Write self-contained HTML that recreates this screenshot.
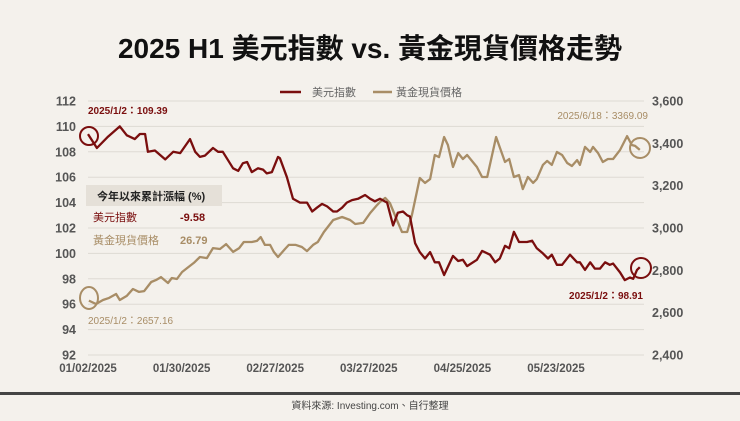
<!DOCTYPE html>
<html><head><meta charset="utf-8"><style>
body{margin:0;background:#f4f1ec;}
svg text{font-family:"Liberation Sans","Noto Sans CJK TC",sans-serif;}
</style></head><body>
<svg width="740" height="416" viewBox="0 0 740 416" xmlns="http://www.w3.org/2000/svg">
<rect width="740" height="416" fill="#f4f1ec"/>
<text x="370" y="58" text-anchor="middle" font-size="28" font-weight="bold" fill="#111">2025 H1 美元指數 vs. 黃金現貨價格走勢</text>
<g id="grid"></g><g id="axes"></g>
<g>
<line x1="280" y1="92" x2="301" y2="92" stroke="#7a0e0e" stroke-width="2.5"/>
<text x="312" y="96" font-size="11" fill="#666">美元指數</text>
<line x1="373" y1="92" x2="392" y2="92" stroke="#a88d66" stroke-width="2.5"/>
<text x="396" y="96" font-size="11" fill="#666">黃金現貨價格</text>
</g>
<g id="series"></g>
<g>
<rect x="86" y="185" width="136" height="21" fill="#e5e0d8"/>
<text x="97" y="200" font-size="11" font-weight="bold" fill="#222">今年以來累計漲幅 (%)</text>
<text x="93" y="221" font-size="11" fill="#7a0e0e">美元指數</text>
<text x="180" y="221" font-size="11" font-weight="bold" fill="#7a0e0e">-9.58</text>
<text x="93" y="244" font-size="11" fill="#a88d66">黃金現貨價格</text>
<text x="180" y="244" font-size="11" font-weight="bold" fill="#a88d66">26.79</text>
</g>
<g>
<text x="88" y="114" font-size="10" font-weight="bold" fill="#7a0e0e">2025/1/2：109.39</text>
<circle cx="89" cy="136" r="9" fill="none" stroke="#7a0e0e" stroke-width="2"/>
<text x="648" y="119" text-anchor="end" font-size="10" fill="#a88d66">2025/6/18：3369.09</text>
<circle cx="640" cy="148" r="10" fill="none" stroke="#a88d66" stroke-width="2"/>
<text x="643" y="299" text-anchor="end" font-size="10" font-weight="bold" fill="#7a0e0e">2025/1/2：98.91</text>
<circle cx="641" cy="268" r="10" fill="none" stroke="#7a0e0e" stroke-width="2"/>
<text x="88" y="324" font-size="10" fill="#a88d66">2025/1/2：2657.16</text>
<ellipse cx="89" cy="298" rx="9" ry="11" fill="none" stroke="#a88d66" stroke-width="2"/>
</g>
<rect x="0" y="392" width="740" height="3" fill="#444"/>
<text x="370" y="409" text-anchor="middle" font-size="10" fill="#444">資料來源: Investing.com、自行整理</text>
</svg>
<script>
const dxyDays=[0,1.9,4.3,6.8,8.3,10,11.1,12.2,12.8,14.3,16.5,18.2,19.7,21.8,22.9,23.9,25,26.7,27.8,28.8,31,32.1,33.1,34,35,36.3,37.4,38.2,39.3,40.6,41,42.5,43.8,45.3,46.8,47.9,48.9,50,51.1,52.4,53.2,54.3,55.3,56.4,57.7,59.2,60.3,61.3,62.4,63.9,65.2,66.2,67.3,68.2,68.8,69.9,70.9,72,73.1,74.1,75,76.1,78,79.1,80.1,81,83.1,84.2,85.9,87,88,89.1,90,91,92.1,93.8,94.9,95.9,97.2,98.3,99.1,100.2,101.3,103,104.5,105.1,106.2,107.3,108.3,109.4,110.5,111.5,112.2,113.7,114.7,115.8,116.5,117.3,117.9];
const dxyVals=[109.39,108.3,109.2,110,109.3,109,109.4,109.4,108,108.1,107.4,108,107.9,109,108,107.6,107.7,108.3,108,108,106.7,106.5,107.1,107.2,106.4,106.7,106.6,106.3,106.4,107.6,107.5,106,104.3,104,104,103.3,103.6,103.9,103.7,103.3,103.3,103.6,104,104.2,104.3,104.6,104.3,104.1,104.3,104,102.2,103.2,103.3,103,102.9,100.8,100.1,99.6,100.1,99.3,99.3,98.3,99.8,99.4,99.5,99,99.5,100.2,99.9,99.3,99.6,100.6,100.4,101.7,100.9,100.9,101,100.4,100,99.6,99.9,99.1,99.1,99.9,99.3,99.3,98.7,99.3,98.8,98.8,99.3,99.1,99.2,98.5,97.9,98.1,98,98.7,98.91];
const goldDays=[0.2,1.7,3.2,4.5,6,6.8,8.3,9.6,10.9,12,13.5,14.5,15.6,17.1,17.9,19,20.1,21.2,22.6,23.9,25.4,26.7,28.2,29.5,31,32.3,33.3,35,36.1,36.9,37.8,38.9,39.7,40.6,42.1,42.9,44.4,45.7,46.8,48.1,49.1,50.4,52.4,54.3,56,57.1,58.8,60.3,61.8,62.4,63.5,64.5,66,67.1,68.2,69.2,70.9,72,73.1,74.1,75,76.1,76.9,78,79.1,80.1,81,83.1,84.2,85.3,87.2,89.1,90,91,92.1,92.9,94,95.1,95.9,97.2,98.1,99.1,100.2,101.3,102.4,103.4,104.5,105.1,106.2,107.3,107.9,109,110,111.1,112.2,113.7,115.2,116.2,116.9,117.9];
const goldVals=[2657.16,2641,2660,2670,2688,2660,2679,2712,2698,2702,2745,2754,2768,2740,2764,2759,2792,2811,2835,2863,2858,2905,2901,2924,2887,2905,2934,2934,2939,2957,2920,2920,2887,2863,2901,2920,2920,2910,2891,2920,2934,2981,3038,3052,3038,3019,3024,3071,3109,3123,3142,3118,3038,2981,2981,3061,3236,3213,3231,3345,3335,3430,3392,3288,3354,3326,3345,3288,3241,3241,3430,3312,3326,3241,3250,3184,3241,3213,3231,3298,3317,3298,3359,3345,3307,3293,3321,3298,3383,3359,3383,3354,3312,3326,3326,3369,3434,3392,3388,3369.09];
const leftTicks=[112,110,108,106,104,102,100,98,96,94,92];
const rightTicks=["3,600","3,400","3,200","3,000","2,800","2,600","2,400"];
const rightTickVals=[3600,3400,3200,3000,2800,2600,2400];
const xLabels=["01/02/2025","01/30/2025","02/27/2025","03/27/2025","04/25/2025","05/23/2025"];
const xLabelDays=[0,20,40,60,80,100];
const X0=88,X1=644,DX=4.68,YT=101,YB=355;
const xs=d=>X0+d*DX;
const yl=v=>YT+(112-v)/20*(YB-YT);
const yr=v=>YT+(3600-v)/1200*(YB-YT);
const NS="http://www.w3.org/2000/svg";
function mk(tag,attrs,parent,txt){const e=document.createElementNS(NS,tag);for(const k in attrs)e.setAttribute(k,attrs[k]);if(txt!=null)e.textContent=txt;parent.appendChild(e);return e;}
const grid=document.getElementById('grid'),axes=document.getElementById('axes'),series=document.getElementById('series');
leftTicks.forEach(t=>{
  const l=mk('line',{x1:X0,x2:X1,y1:yl(t),y2:yl(t),stroke:'#dedad3','stroke-width':1},grid);
  
  
  const tx=mk('text',{x:76,y:yl(t)+4.5,'text-anchor':'end','font-size':12.5,'font-weight':'bold',fill:'#555'},axes,String(t));
  
  
});
rightTickVals.forEach((t,i)=>{
  const tx=mk('text',{x:652,y:yr(t)+4.5,'font-size':12.5,'font-weight':'bold',fill:'#555'},axes,rightTicks[i]);
  
  
});
xLabels.forEach((s,i)=>{
  const tx=mk('text',{x:xs(xLabelDays[i]),y:372,'text-anchor':'middle','font-size':11.5,'font-weight':'bold',fill:'#555'},axes,s);
  
  
});
function line(days,vals,fy,color,name){
  const n=Math.min(days.length,vals.length);
  let d='';for(let i=0;i<n;i++)d+=(i?'L':'M')+xs(days[i]).toFixed(1)+','+fy(vals[i]).toFixed(1);
  const p=mk('path',{d:d,fill:'none',stroke:color,'stroke-width':2.3,'stroke-linejoin':'round'},series);
  
  
}
line(goldDays,goldVals,yr,'#a88d66','gold-line');
line(dxyDays,dxyVals,yl,'#7a0e0e','dxy-line');
</script>
</body></html>
